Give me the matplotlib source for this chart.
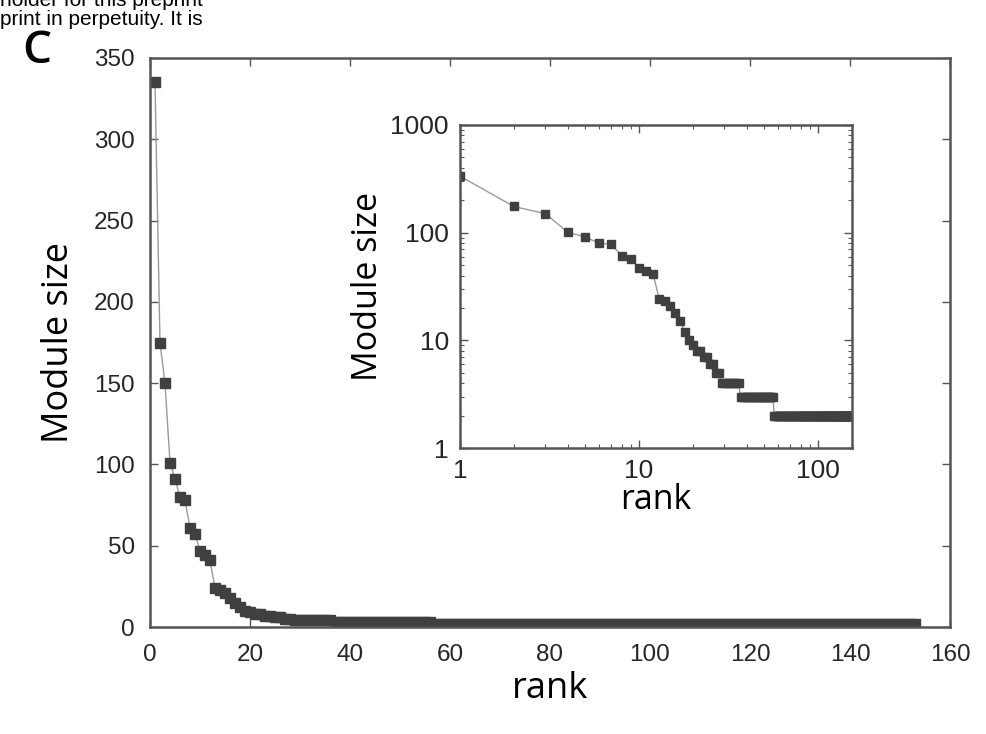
import numpy as np
import matplotlib.pyplot as plt
from matplotlib.ticker import FixedLocator, LogLocator, NullFormatter

# module sizes, sorted by rank
head_sizes = [335, 175, 150, 101, 91, 80, 78, 61, 57, 47, 44, 41,
              24, 23, 21, 18, 15, 12, 10, 9, 8, 8, 7, 7, 6, 6, 5, 5]
plateau_sizes = [4, 3, 2]
plateau_counts = [8, 20, 97]

sizes = list(head_sizes)
for v, n in zip(plateau_sizes, plateau_counts):
    sizes += [v] * n
sizes = np.array(sizes)
rank = np.arange(1, len(sizes) + 1)

main_xticks = [0, 20, 40, 60, 80, 100, 120, 140, 160]
main_yticks = [0, 50, 100, 150, 200, 250, 300, 350]
inset_xticks = [1, 10, 100]
inset_yticks = [1, 10, 100, 1000]

tick_font = "Liberation Sans"
label_font = "Open Sans"
dark = "#404040"
frame = "#555555"

fig = plt.figure(figsize=(9.87, 7.34), dpi=100)

# main panel
ax = fig.add_axes([150 / 987, 1 - 627 / 734, 800 / 987, 569 / 734])
ax.plot(rank, sizes, color="#9a9a9a", lw=1.0, marker="s", ms=6.5,
        mfc=dark, mec=dark)
ax.set_xlim(0, 160)
ax.set_ylim(0, 350)
ax.xaxis.set_major_locator(FixedLocator(main_xticks))
ax.yaxis.set_major_locator(FixedLocator(main_yticks))
ax.tick_params(direction="in", length=6, width=1, top=True, right=True,
               color=frame, labelsize=17.5)
ax.tick_params(axis="y", pad=11)
ax.tick_params(axis="x", pad=12)
for lab in ax.get_xticklabels() + ax.get_yticklabels():
    lab.set_fontfamily(tick_font)
    lab.set_color("#262626")
for s in ax.spines.values():
    s.set_linewidth(1.8)
    s.set_color(frame)
ax.set_xlabel("rank", fontsize=26, family=label_font, labelpad=4)
ax.set_ylabel("Module size", fontsize=26, family=label_font, labelpad=12)

# inset, log-log
ins = fig.add_axes([460 / 987, 1 - 448 / 734, 392 / 987, 323 / 734])
ins.loglog(rank, sizes, color="#9a9a9a", lw=1.0, marker="s", ms=5.5,
           mfc=dark, mec=dark)
ins.set_xlim(1, 155)
ins.set_ylim(1, 1000)
ins.xaxis.set_major_locator(FixedLocator(inset_xticks))
ins.yaxis.set_major_locator(FixedLocator(inset_yticks))
ins.xaxis.set_minor_locator(LogLocator(base=10, subs=np.arange(2, 10)))
ins.yaxis.set_minor_locator(LogLocator(base=10, subs=np.arange(2, 10)))
ins.xaxis.set_minor_formatter(NullFormatter())
ins.yaxis.set_minor_formatter(NullFormatter())
ins.set_xticklabels([str(t) for t in inset_xticks])
ins.set_yticklabels([str(t) for t in inset_yticks])
ins.tick_params(which="both", direction="in", top=True, right=True,
                color=frame, labelsize=19)
ins.tick_params(axis="y", which="major", pad=8)
ins.tick_params(axis="x", which="major", pad=8)
ins.tick_params(which="major", length=6, width=1)
ins.tick_params(which="minor", length=3, width=0.8)
for lab in ins.get_xticklabels() + ins.get_yticklabels():
    lab.set_fontfamily(tick_font)
    lab.set_color("#262626")
for s in ins.spines.values():
    s.set_linewidth(1.8)
    s.set_color(frame)
ins.set_xlabel("rank", fontsize=24.5, family=label_font, labelpad=0)
ins.set_ylabel("Module size", fontsize=24.5, family=label_font, labelpad=4)

# panel letter and cropped header text
fig.text(22 / 987, 1 - 63 / 734, "C", fontsize=33, family=label_font,
         weight="semibold", ha="left", va="baseline")
fig.text(0, 1 - 6 / 734, "holder for this preprint", fontsize=15,
         family="Liberation Sans", ha="left", va="baseline")
fig.text(0, 1 - 25 / 734, "print in perpetuity. It is", fontsize=15,
         family="Liberation Sans", ha="left", va="baseline")

fig.savefig("out.png", dpi=100)
